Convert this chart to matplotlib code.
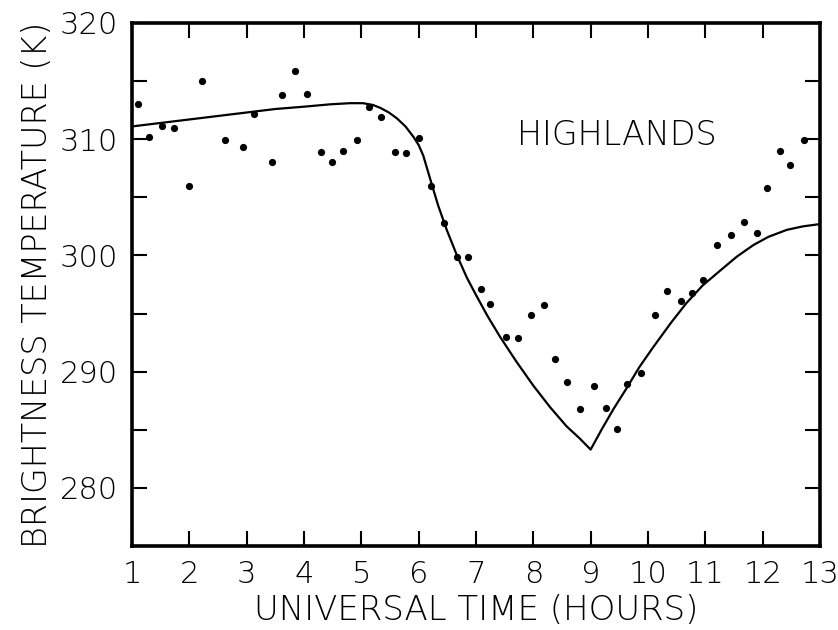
import matplotlib
matplotlib.use("Agg")
import matplotlib.pyplot as plt
from matplotlib.ticker import MultipleLocator

# observed brightness temperatures (dots)
obs_time = [1.11, 1.30, 1.52, 1.73, 1.99, 2.22, 2.62, 2.93, 3.13, 3.44,
            3.62, 3.84, 4.05, 4.29, 4.48, 4.68, 4.92, 5.13, 5.35, 5.59,
            5.78, 6.01, 6.21, 6.44, 6.67, 6.86, 7.08, 7.25, 7.52, 7.74,
            7.96, 8.18, 8.38, 8.58, 8.81, 9.06, 9.26, 9.46, 9.64, 9.88,
            10.13, 10.34, 10.57, 10.77, 10.96, 11.21, 11.44, 11.67, 11.91,
            12.08, 12.30, 12.48, 12.72]
obs_temp = [313.0, 310.2, 311.1, 311.0, 306.0, 315.0, 309.9, 309.3, 312.2, 308.0,
            313.8, 315.9, 313.9, 308.9, 308.0, 309.0, 309.9, 312.8, 311.9, 308.9,
            308.8, 310.1, 306.0, 302.8, 299.9, 299.9, 297.1, 295.8, 293.0, 292.9,
            294.9, 295.7, 291.1, 289.1, 286.8, 288.8, 286.9, 285.1, 288.9, 289.9,
            294.9, 296.9, 296.1, 296.8, 297.9, 300.9, 301.8, 302.9, 301.9,
            305.8, 309.0, 307.8, 309.9]

# model curve
model_time = [1.0, 1.5, 2.0, 2.5, 3.0, 3.5, 4.0, 4.45, 4.8, 5.03, 5.2, 5.33,
              5.48, 5.62, 5.77, 5.91, 6.0, 6.08, 6.2, 6.34, 6.49, 6.66, 6.84,
              7.0, 7.2, 7.42, 7.7, 8.0, 8.3, 8.58, 8.8, 9.0, 9.2, 9.4, 9.63,
              9.85, 10.09, 10.4, 10.67, 10.95, 11.26, 11.55, 11.84, 12.1,
              12.42, 12.7, 13.0]
model_temp = [311.1, 311.4, 311.7, 312.0, 312.3, 312.6, 312.8, 313.0, 313.1,
              313.1, 312.95, 312.7, 312.3, 311.8, 311.1, 310.2, 309.5, 308.6,
              306.6, 304.3, 302.2, 300.1, 298.1, 296.6, 294.8, 293.0, 290.9,
              288.8, 286.9, 285.3, 284.3, 283.3, 285.1, 286.8, 288.6, 290.4,
              292.1, 294.2, 295.9, 297.4, 298.7, 299.9, 300.9, 301.6, 302.2,
              302.5, 302.7]

plt.rcParams["font.family"] = ["DejaVu Sans"]

fig = plt.figure(figsize=(8.38, 6.3), dpi=100)
ax = fig.add_axes([0.1575, 0.1333, 0.821, 0.8302])

ax.plot(model_time, model_temp, color="black", lw=1.6)
ax.plot(obs_time, obs_temp, "o", color="black", ms=5.2, mec="none")

ax.set_xlim(1, 13)
ax.set_ylim(275, 320)
ax.xaxis.set_major_locator(MultipleLocator(1))
ax.yaxis.set_major_locator(MultipleLocator(10))
ax.yaxis.set_minor_locator(MultipleLocator(5))

for s in ax.spines.values():
    s.set_linewidth(2.6)

ax.tick_params(which="both", direction="in", top=True, right=True,
               width=1.5, length=11, labelsize=22, pad=10)
ax.set_yticks([280, 290, 300, 310, 320])
for lab in ax.get_xticklabels() + ax.get_yticklabels():
    lab.set_fontweight("light")

ax.set_xlabel("UNIVERSAL TIME (HOURS)", fontsize=24.5, labelpad=4,
              fontweight="light")
ax.set_ylabel("BRIGHTNESS TEMPERATURE (K)", fontsize=24, labelpad=4,
              fontweight="light")

ax.text(9.46, 310.3, "HIGHLANDS", fontsize=24, ha="center", va="center",
        fontweight="light")

fig.savefig("out.png", dpi=100)
